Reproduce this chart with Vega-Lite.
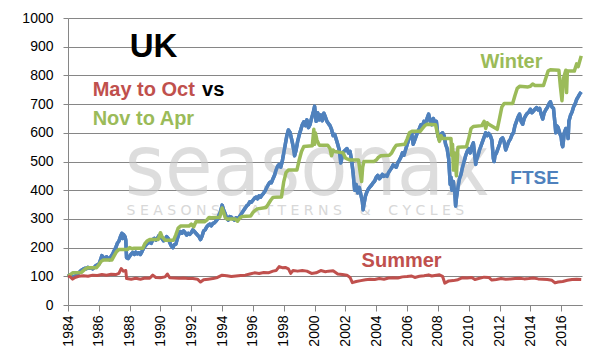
{
  "$schema": "https://vega.github.io/schema/vega-lite/v6.json",
  "width": 514,
  "height": 287,
  "autosize": {"type": "none"},
  "padding": {"left": 68, "top": 18, "right": 19, "bottom": 56},
  "background": "white",
  "config": {
    "view": {"stroke": null},
    "font": "Liberation Sans",
    "axis": {
      "labelFont": "Liberation Sans", "labelFontSize": 14, "labelColor": "#000000",
      "domainColor": "#868686", "tickColor": "#868686", "gridColor": "#868686", "title": null
    },
    "axisX": {"labelAngle": -90, "grid": false, "tickSize": 6, "labelPadding": 4, "labelOverlap": false, "labelFlush": false},
    "axisY": {"grid": true, "tickSize": 5, "labelPadding": 10}
  },
  "resolve": {"axis": {"x": "independent", "y": "independent"}},
  "datasets": {
    "ftse": [
      {"t":1984.0,"v":100},{"t":1984.1,"v":104},{"t":1984.2,"v":103},{"t":1984.3,"v":96},{"t":1984.4,"v":100},{"t":1984.5,"v":101},{"t":1984.6,"v":108},{"t":1984.7,"v":112},{"t":1984.8,"v":118},{"t":1984.9,"v":122},
      {"t":1985.0,"v":125},{"t":1985.1,"v":128},{"t":1985.2,"v":126},{"t":1985.3,"v":131},{"t":1985.4,"v":128},{"t":1985.5,"v":130},{"t":1985.6,"v":126},{"t":1985.7,"v":130},{"t":1985.8,"v":137},{"t":1985.9,"v":140},
      {"t":1986.0,"v":142},{"t":1986.1,"v":155},{"t":1986.2,"v":172},{"t":1986.3,"v":166},{"t":1986.4,"v":160},{"t":1986.5,"v":168},{"t":1986.6,"v":163},{"t":1986.7,"v":158},{"t":1986.8,"v":170},{"t":1986.9,"v":178},
      {"t":1987.0,"v":190},{"t":1987.1,"v":200},{"t":1987.2,"v":215},{"t":1987.3,"v":222},{"t":1987.4,"v":238},{"t":1987.5,"v":250},{"t":1987.55,"v":232},{"t":1987.6,"v":246},{"t":1987.7,"v":238},{"t":1987.75,"v":225},{"t":1987.8,"v":165},{"t":1987.9,"v":162},
      {"t":1988.0,"v":170},{"t":1988.1,"v":178},{"t":1988.2,"v":183},{"t":1988.3,"v":176},{"t":1988.4,"v":184},{"t":1988.5,"v":178},{"t":1988.6,"v":182},{"t":1988.7,"v":176},{"t":1988.8,"v":186},{"t":1988.9,"v":198},
      {"t":1989.0,"v":205},{"t":1989.1,"v":212},{"t":1989.2,"v":216},{"t":1989.3,"v":222},{"t":1989.4,"v":215},{"t":1989.5,"v":228},{"t":1989.6,"v":232},{"t":1989.7,"v":226},{"t":1989.8,"v":232},{"t":1989.9,"v":242},
      {"t":1990.0,"v":236},{"t":1990.1,"v":232},{"t":1990.2,"v":224},{"t":1990.3,"v":230},{"t":1990.4,"v":238},{"t":1990.5,"v":232},{"t":1990.6,"v":218},{"t":1990.7,"v":206},{"t":1990.8,"v":200},{"t":1990.9,"v":210},
      {"t":1991.0,"v":212},{"t":1991.1,"v":232},{"t":1991.2,"v":248},{"t":1991.3,"v":256},{"t":1991.4,"v":250},{"t":1991.5,"v":258},{"t":1991.6,"v":252},{"t":1991.7,"v":244},{"t":1991.8,"v":250},{"t":1991.9,"v":246},
      {"t":1992.0,"v":252},{"t":1992.1,"v":262},{"t":1992.2,"v":256},{"t":1992.3,"v":250},{"t":1992.4,"v":244},{"t":1992.5,"v":238},{"t":1992.6,"v":228},{"t":1992.7,"v":240},{"t":1992.8,"v":258},{"t":1992.9,"v":262},
      {"t":1993.0,"v":272},{"t":1993.1,"v":278},{"t":1993.2,"v":282},{"t":1993.3,"v":276},{"t":1993.4,"v":284},{"t":1993.5,"v":286},{"t":1993.6,"v":292},{"t":1993.7,"v":300},{"t":1993.8,"v":314},{"t":1993.9,"v":326},
      {"t":1994.0,"v":348},{"t":1994.1,"v":330},{"t":1994.2,"v":318},{"t":1994.3,"v":302},{"t":1994.4,"v":296},{"t":1994.5,"v":308},{"t":1994.6,"v":306},{"t":1994.7,"v":300},{"t":1994.8,"v":296},{"t":1994.9,"v":304},
      {"t":1995.0,"v":298},{"t":1995.1,"v":306},{"t":1995.2,"v":314},{"t":1995.3,"v":322},{"t":1995.4,"v":330},{"t":1995.5,"v":338},{"t":1995.6,"v":346},{"t":1995.7,"v":350},{"t":1995.8,"v":360},{"t":1995.9,"v":358},
      {"t":1996.0,"v":365},{"t":1996.1,"v":372},{"t":1996.2,"v":376},{"t":1996.3,"v":370},{"t":1996.4,"v":380},{"t":1996.5,"v":376},{"t":1996.6,"v":384},{"t":1996.7,"v":390},{"t":1996.8,"v":398},{"t":1996.9,"v":410},
      {"t":1997.0,"v":420},{"t":1997.1,"v":428},{"t":1997.2,"v":426},{"t":1997.3,"v":440},{"t":1997.4,"v":452},{"t":1997.5,"v":470},{"t":1997.6,"v":484},{"t":1997.7,"v":490},{"t":1997.8,"v":480},{"t":1997.9,"v":500},
      {"t":1998.0,"v":530},{"t":1998.1,"v":560},{"t":1998.2,"v":590},{"t":1998.3,"v":610},{"t":1998.4,"v":602},{"t":1998.5,"v":580},{"t":1998.6,"v":555},{"t":1998.7,"v":520},{"t":1998.8,"v":540},{"t":1998.9,"v":570},
      {"t":1999.0,"v":592},{"t":1999.1,"v":610},{"t":1999.2,"v":628},{"t":1999.3,"v":638},{"t":1999.4,"v":625},{"t":1999.5,"v":645},{"t":1999.6,"v":618},{"t":1999.7,"v":628},{"t":1999.8,"v":650},{"t":1999.9,"v":668},
      {"t":2000.0,"v":692},{"t":2000.1,"v":640},{"t":2000.2,"v":670},{"t":2000.3,"v":645},{"t":2000.4,"v":662},{"t":2000.5,"v":642},{"t":2000.6,"v":668},{"t":2000.7,"v":655},{"t":2000.8,"v":640},{"t":2000.9,"v":632},
      {"t":2001.0,"v":625},{"t":2001.1,"v":612},{"t":2001.2,"v":590},{"t":2001.3,"v":595},{"t":2001.4,"v":578},{"t":2001.5,"v":560},{"t":2001.6,"v":540},{"t":2001.7,"v":495},{"t":2001.8,"v":520},{"t":2001.9,"v":535},
      {"t":2002.0,"v":540},{"t":2002.1,"v":545},{"t":2002.2,"v":530},{"t":2002.3,"v":535},{"t":2002.4,"v":505},{"t":2002.5,"v":460},{"t":2002.6,"v":400},{"t":2002.7,"v":420},{"t":2002.8,"v":390},{"t":2002.9,"v":410},
      {"t":2003.0,"v":385},{"t":2003.1,"v":360},{"t":2003.15,"v":332},{"t":2003.2,"v":350},{"t":2003.3,"v":380},{"t":2003.4,"v":395},{"t":2003.5,"v":405},{"t":2003.6,"v":412},{"t":2003.7,"v":418},{"t":2003.8,"v":426},{"t":2003.9,"v":432},
      {"t":2004.0,"v":445},{"t":2004.1,"v":452},{"t":2004.2,"v":440},{"t":2004.3,"v":446},{"t":2004.4,"v":455},{"t":2004.5,"v":448},{"t":2004.6,"v":452},{"t":2004.7,"v":448},{"t":2004.8,"v":462},{"t":2004.9,"v":470},
      {"t":2005.0,"v":478},{"t":2005.1,"v":488},{"t":2005.2,"v":484},{"t":2005.3,"v":480},{"t":2005.4,"v":496},{"t":2005.5,"v":505},{"t":2005.6,"v":515},{"t":2005.7,"v":530},{"t":2005.8,"v":522},{"t":2005.9,"v":540},
      {"t":2006.0,"v":558},{"t":2006.1,"v":575},{"t":2006.2,"v":590},{"t":2006.3,"v":598},{"t":2006.4,"v":560},{"t":2006.5,"v":575},{"t":2006.6,"v":590},{"t":2006.7,"v":605},{"t":2006.8,"v":615},{"t":2006.9,"v":628},
      {"t":2007.0,"v":625},{"t":2007.1,"v":640},{"t":2007.2,"v":632},{"t":2007.3,"v":650},{"t":2007.4,"v":665},{"t":2007.5,"v":640},{"t":2007.6,"v":628},{"t":2007.7,"v":650},{"t":2007.8,"v":635},{"t":2007.9,"v":640},
      {"t":2008.0,"v":590},{"t":2008.1,"v":575},{"t":2008.2,"v":595},{"t":2008.3,"v":600},{"t":2008.4,"v":590},{"t":2008.5,"v":560},{"t":2008.6,"v":545},{"t":2008.7,"v":510},{"t":2008.8,"v":420},{"t":2008.85,"v":445},{"t":2008.9,"v":400},
      {"t":2009.0,"v":430},{"t":2009.1,"v":390},{"t":2009.15,"v":345},{"t":2009.2,"v":372},{"t":2009.3,"v":410},{"t":2009.4,"v":440},{"t":2009.5,"v":455},{"t":2009.6,"v":480},{"t":2009.7,"v":500},{"t":2009.8,"v":520},{"t":2009.9,"v":535},
      {"t":2010.0,"v":545},{"t":2010.1,"v":530},{"t":2010.2,"v":552},{"t":2010.3,"v":565},{"t":2010.4,"v":515},{"t":2010.45,"v":490},{"t":2010.5,"v":505},{"t":2010.6,"v":520},{"t":2010.7,"v":540},{"t":2010.8,"v":555},{"t":2010.9,"v":570},
      {"t":2011.0,"v":585},{"t":2011.1,"v":600},{"t":2011.2,"v":590},{"t":2011.3,"v":598},{"t":2011.4,"v":590},{"t":2011.5,"v":575},{"t":2011.6,"v":510},{"t":2011.65,"v":500},{"t":2011.7,"v":520},{"t":2011.8,"v":530},{"t":2011.9,"v":545},
      {"t":2012.0,"v":560},{"t":2012.1,"v":578},{"t":2012.2,"v":582},{"t":2012.3,"v":568},{"t":2012.4,"v":540},{"t":2012.5,"v":555},{"t":2012.6,"v":570},{"t":2012.7,"v":578},{"t":2012.8,"v":592},{"t":2012.9,"v":600},
      {"t":2013.0,"v":625},{"t":2013.1,"v":640},{"t":2013.2,"v":655},{"t":2013.3,"v":665},{"t":2013.4,"v":640},{"t":2013.5,"v":630},{"t":2013.6,"v":650},{"t":2013.7,"v":660},{"t":2013.8,"v":668},{"t":2013.9,"v":672},
      {"t":2014.0,"v":682},{"t":2014.1,"v":670},{"t":2014.2,"v":676},{"t":2014.3,"v":682},{"t":2014.4,"v":688},{"t":2014.5,"v":680},{"t":2014.6,"v":685},{"t":2014.7,"v":665},{"t":2014.8,"v":648},{"t":2014.9,"v":670},
      {"t":2015.0,"v":680},{"t":2015.1,"v":688},{"t":2015.2,"v":700},{"t":2015.3,"v":708},{"t":2015.4,"v":690},{"t":2015.5,"v":685},{"t":2015.6,"v":630},{"t":2015.65,"v":600},{"t":2015.7,"v":625},{"t":2015.8,"v":618},{"t":2015.9,"v":600},
      {"t":2016.0,"v":585},{"t":2016.05,"v":560},{"t":2016.1,"v":552},{"t":2016.15,"v":575},{"t":2016.2,"v":600},{"t":2016.3,"v":615},{"t":2016.4,"v":608},{"t":2016.45,"v":580},{"t":2016.5,"v":640},{"t":2016.6,"v":660},{"t":2016.7,"v":672},{"t":2016.8,"v":690},{"t":2016.9,"v":700},
      {"t":2017.0,"v":716},{"t":2017.1,"v":725},{"t":2017.2,"v":735},{"t":2017.3,"v":742}
    ],
    "winter": [
      {"t":1984.0,"v":100},{"t":1984.15,"v":106},{"t":1984.3,"v":112},{"t":1984.85,"v":113},
      {"t":1985.0,"v":120},{"t":1985.15,"v":127},{"t":1985.3,"v":130},{"t":1985.85,"v":130},
      {"t":1986.0,"v":140},{"t":1986.15,"v":152},{"t":1986.3,"v":157},{"t":1986.85,"v":157},
      {"t":1987.0,"v":172},{"t":1987.15,"v":186},{"t":1987.3,"v":193},{"t":1987.85,"v":193},
      {"t":1988.0,"v":200},{"t":1988.15,"v":196},{"t":1988.3,"v":198},{"t":1988.85,"v":198},
      {"t":1989.0,"v":215},{"t":1989.15,"v":224},{"t":1989.3,"v":228},{"t":1989.85,"v":228},
      {"t":1990.0,"v":252},{"t":1990.1,"v":238},{"t":1990.2,"v":232},{"t":1990.3,"v":226},{"t":1990.85,"v":226},
      {"t":1991.0,"v":245},{"t":1991.15,"v":268},{"t":1991.3,"v":275},{"t":1991.85,"v":275},
      {"t":1992.0,"v":282},{"t":1992.15,"v":272},{"t":1992.3,"v":290},{"t":1992.85,"v":290},
      {"t":1993.0,"v":296},{"t":1993.15,"v":305},{"t":1993.3,"v":304},{"t":1993.85,"v":306},
      {"t":1994.0,"v":338},{"t":1994.1,"v":322},{"t":1994.2,"v":305},{"t":1994.3,"v":300},{"t":1994.85,"v":300},
      {"t":1995.0,"v":292},{"t":1995.15,"v":303},{"t":1995.3,"v":308},{"t":1995.85,"v":310},
      {"t":1996.0,"v":322},{"t":1996.15,"v":330},{"t":1996.3,"v":335},{"t":1996.85,"v":340},
      {"t":1997.0,"v":352},{"t":1997.15,"v":365},{"t":1997.3,"v":375},{"t":1997.85,"v":376},
      {"t":1998.0,"v":430},{"t":1998.15,"v":462},{"t":1998.3,"v":470},{"t":1998.85,"v":470},
      {"t":1999.0,"v":505},{"t":1999.15,"v":535},{"t":1999.3,"v":552},{"t":1999.85,"v":555},
      {"t":1999.95,"v":612},{"t":2000.0,"v":560},{"t":2000.05,"v":600},{"t":2000.15,"v":575},{"t":2000.3,"v":557},{"t":2000.85,"v":557},
      {"t":2001.0,"v":545},{"t":2001.1,"v":520},{"t":2001.2,"v":540},{"t":2001.3,"v":535},{"t":2001.85,"v":530},
      {"t":2002.0,"v":512},{"t":2002.15,"v":508},{"t":2002.3,"v":505},{"t":2002.85,"v":505},
      {"t":2002.95,"v":465},{"t":2003.05,"v":430},{"t":2003.12,"v":480},{"t":2003.2,"v":500},{"t":2003.85,"v":500},
      {"t":2004.0,"v":505},{"t":2004.15,"v":515},{"t":2004.3,"v":520},{"t":2004.85,"v":522},
      {"t":2005.0,"v":530},{"t":2005.15,"v":545},{"t":2005.3,"v":557},{"t":2005.85,"v":560},
      {"t":2006.0,"v":578},{"t":2006.15,"v":600},{"t":2006.3,"v":605},{"t":2006.85,"v":605},
      {"t":2007.0,"v":615},{"t":2007.15,"v":625},{"t":2007.3,"v":630},{"t":2007.85,"v":628},
      {"t":2008.0,"v":590},{"t":2008.1,"v":570},{"t":2008.2,"v":590},{"t":2008.3,"v":580},{"t":2008.85,"v":580},
      {"t":2008.9,"v":520},{"t":2008.95,"v":560},{"t":2009.0,"v":470},{"t":2009.1,"v":530},{"t":2009.2,"v":450},{"t":2009.3,"v":550},{"t":2009.85,"v":551},
      {"t":2010.0,"v":580},{"t":2010.15,"v":615},{"t":2010.3,"v":622},{"t":2010.85,"v":625},
      {"t":2011.0,"v":640},{"t":2011.1,"v":615},{"t":2011.2,"v":635},{"t":2011.3,"v":630},{"t":2011.85,"v":612},
      {"t":2012.0,"v":650},{"t":2012.15,"v":690},{"t":2012.3,"v":702},{"t":2012.85,"v":702},
      {"t":2013.0,"v":730},{"t":2013.15,"v":755},{"t":2013.3,"v":762},{"t":2013.85,"v":760},
      {"t":2014.0,"v":762},{"t":2014.15,"v":770},{"t":2014.3,"v":765},{"t":2014.85,"v":765},
      {"t":2015.0,"v":790},{"t":2015.15,"v":815},{"t":2015.3,"v":820},{"t":2015.85,"v":818},
      {"t":2015.95,"v":760},{"t":2016.05,"v":712},{"t":2016.15,"v":790},{"t":2016.3,"v":818},{"t":2016.35,"v":740},{"t":2016.4,"v":815},{"t":2016.85,"v":815},
      {"t":2017.0,"v":840},{"t":2017.1,"v":830},{"t":2017.3,"v":868}
    ],
    "summer": [
      {"t":1984.0,"v":100},{"t":1984.15,"v":98},{"t":1984.3,"v":90},{"t":1984.45,"v":96},{"t":1984.7,"v":100},
      {"t":1985.0,"v":102},{"t":1985.3,"v":100},{"t":1985.6,"v":104},{"t":1985.9,"v":103},
      {"t":1986.2,"v":106},{"t":1986.5,"v":104},{"t":1986.8,"v":107},{"t":1987.1,"v":106},{"t":1987.3,"v":110},{"t":1987.45,"v":127},{"t":1987.6,"v":118},{"t":1987.75,"v":120},{"t":1987.8,"v":92},
      {"t":1988.1,"v":90},{"t":1988.4,"v":93},{"t":1988.7,"v":90},{"t":1989.0,"v":94},{"t":1989.3,"v":93},{"t":1989.5,"v":104},{"t":1989.7,"v":96},
      {"t":1990.0,"v":95},{"t":1990.3,"v":98},{"t":1990.45,"v":108},{"t":1990.6,"v":95},{"t":1990.9,"v":94},
      {"t":1991.2,"v":93},{"t":1991.5,"v":94},{"t":1991.8,"v":92},{"t":1992.1,"v":92},{"t":1992.4,"v":90},{"t":1992.6,"v":80},{"t":1992.8,"v":88},
      {"t":1993.1,"v":90},{"t":1993.4,"v":92},{"t":1993.7,"v":96},{"t":1994.0,"v":104},{"t":1994.3,"v":102},{"t":1994.6,"v":99},{"t":1994.9,"v":101},
      {"t":1995.2,"v":103},{"t":1995.5,"v":104},{"t":1995.8,"v":108},{"t":1996.1,"v":112},{"t":1996.4,"v":110},{"t":1996.7,"v":113},
      {"t":1997.0,"v":112},{"t":1997.3,"v":118},{"t":1997.5,"v":120},{"t":1997.7,"v":134},{"t":1997.9,"v":130},
      {"t":1998.1,"v":131},{"t":1998.3,"v":126},{"t":1998.45,"v":110},{"t":1998.6,"v":120},{"t":1998.9,"v":118},
      {"t":1999.2,"v":120},{"t":1999.5,"v":118},{"t":1999.8,"v":110},{"t":2000.1,"v":112},{"t":2000.4,"v":120},{"t":2000.7,"v":116},{"t":2000.9,"v":118},
      {"t":2001.2,"v":119},{"t":2001.5,"v":108},{"t":2001.8,"v":106},{"t":2002.1,"v":104},{"t":2002.3,"v":96},{"t":2002.45,"v":78},{"t":2002.7,"v":82},
      {"t":2003.0,"v":85},{"t":2003.3,"v":88},{"t":2003.6,"v":90},{"t":2003.9,"v":89},{"t":2004.2,"v":92},{"t":2004.5,"v":90},{"t":2004.8,"v":94},
      {"t":2005.1,"v":95},{"t":2005.4,"v":94},{"t":2005.7,"v":98},{"t":2006.0,"v":99},{"t":2006.3,"v":101},{"t":2006.5,"v":96},{"t":2006.8,"v":100},
      {"t":2007.1,"v":102},{"t":2007.4,"v":105},{"t":2007.6,"v":101},{"t":2007.9,"v":104},{"t":2008.1,"v":105},{"t":2008.3,"v":100},{"t":2008.45,"v":76},{"t":2008.7,"v":84},
      {"t":2009.0,"v":85},{"t":2009.3,"v":88},{"t":2009.6,"v":95},{"t":2009.9,"v":94},{"t":2010.2,"v":96},{"t":2010.4,"v":89},{"t":2010.7,"v":93},
      {"t":2011.0,"v":97},{"t":2011.3,"v":96},{"t":2011.5,"v":87},{"t":2011.8,"v":89},{"t":2012.1,"v":92},{"t":2012.4,"v":90},{"t":2012.7,"v":91},
      {"t":2013.0,"v":92},{"t":2013.3,"v":93},{"t":2013.6,"v":91},{"t":2013.9,"v":92},{"t":2014.2,"v":94},{"t":2014.5,"v":91},{"t":2014.8,"v":90},
      {"t":2015.1,"v":89},{"t":2015.4,"v":86},{"t":2015.6,"v":77},{"t":2015.8,"v":80},{"t":2016.1,"v":82},{"t":2016.4,"v":86},{"t":2016.7,"v":89},{"t":2017.0,"v":90},{"t":2017.3,"v":89}
    ]
  },
  "encoding": {
    "x": {"field": "t", "type": "quantitative", "scale": {"domain": [1984, 2017.35], "nice": false, "zero": false}, "axis": null},
    "y": {"field": "v", "type": "quantitative", "scale": {"domain": [0, 1000], "nice": false}, "axis": null}
  },
  "layer": [
    {
      "data": {"name": "ftse"},
      "mark": {"type": "line", "color": "#4f81bd", "strokeWidth": 3.5, "strokeJoin": "round"},
      "encoding": {
        "x": {
          "field": "t", "type": "quantitative",
          "scale": {"domain": [1984, 2017.35], "nice": false, "zero": false},
          "axis": {
            "values": [1984,1986,1988,1990,1992,1994,1996,1998,2000,2002,2004,2006,2008,2010,2012,2014,2016], "format": "d", "labelFontSize": 14, "labelAngle": -90,
            "encode": {"labels": {"update": {"angle": {"value": 270}, "fontSize": {"value": 14}, "align": {"value": "right"}, "baseline": {"value": "middle"}}}}
          }
        },
        "y": {
          "field": "v", "type": "quantitative",
          "scale": {"domain": [0, 1000], "nice": false},
          "axis": {
            "values": [0,100,200,300,400,500,600,700,800,900,1000], "format": "d", "labelFontSize": 14,
            "encode": {"labels": {"update": {"fontSize": {"value": 14}}}}
          }
        }
      }
    },
    {
      "data": {"values": [{"t": 1987.68, "v": 383, "label": "seasonax"}]},
      "mark": {"type": "text", "align": "left", "baseline": "alphabetic", "font": "DejaVu Sans Condensed", "fontSize": 86, "fill": "#c8c8c8", "opacity": 0.6},
      "encoding": {"text": {"field": "label"}}
    },
    {
      "data": {"values": [{"t": 1987.8, "v": 314, "label": "S\u00a0E\u00a0A\u00a0S\u00a0O\u00a0N\u00a0S\u00a0\u00a0\u00a0\u00a0P\u00a0A\u00a0T\u00a0T\u00a0E\u00a0R\u00a0N\u00a0S\u00a0\u00a0\u00a0\u00a0&\u00a0\u00a0\u00a0\u00a0C\u00a0Y\u00a0C\u00a0L\u00a0E\u00a0S"}]},
      "mark": {"type": "text", "align": "left", "baseline": "alphabetic", "font": "DejaVu Sans", "fontSize": 14, "fill": "#c8c8c8", "opacity": 0.7},
      "encoding": {"text": {"field": "label"}}
    },
    {
      "data": {"name": "ftse"},
      "mark": {"type": "line", "color": "#4f81bd", "strokeWidth": 3.5, "strokeJoin": "round"}
    },
    {
      "data": {"name": "winter"},
      "mark": {"type": "line", "color": "#9bbb59", "strokeWidth": 3.5, "strokeJoin": "round"}
    },
    {
      "data": {"name": "summer"},
      "mark": {"type": "line", "color": "#c0504d", "strokeWidth": 3, "strokeJoin": "round"}
    },
    {
      "data": {"values": [{"t": 1988.0, "v": 865, "label": "UK"}]},
      "mark": {"type": "text", "align": "left", "baseline": "alphabetic", "font": "Liberation Sans", "fontWeight": "bold", "fontSize": 33, "fill": "#000000"},
      "encoding": {"text": {"field": "label"}}
    },
    {
      "data": {"values": [{"t": 1985.6, "v": 728, "label": "May to Oct"}, {"t": 2003.05, "v": 131, "label": "Summer"}]},
      "mark": {"type": "text", "align": "left", "baseline": "alphabetic", "font": "Liberation Sans", "fontWeight": "bold", "fontSize": 20, "fill": "#c0504d"},
      "encoding": {"text": {"field": "label"}}
    },
    {
      "data": {"values": [{"t": 1992.7, "v": 728, "label": "vs"}]},
      "mark": {"type": "text", "align": "left", "baseline": "alphabetic", "font": "Liberation Sans", "fontWeight": "bold", "fontSize": 20, "fill": "#000000"},
      "encoding": {"text": {"field": "label"}}
    },
    {
      "data": {"values": [{"t": 1985.6, "v": 627, "label": "Nov to Apr"}, {"t": 2010.76, "v": 825, "label": "Winter"}]},
      "mark": {"type": "text", "align": "left", "baseline": "alphabetic", "font": "Liberation Sans", "fontWeight": "bold", "fontSize": 20, "fill": "#9bbb59"},
      "encoding": {"text": {"field": "label"}}
    },
    {
      "data": {"values": [{"t": 2012.7, "v": 420, "label": "FTSE"}]},
      "mark": {"type": "text", "align": "left", "baseline": "alphabetic", "font": "Liberation Sans", "fontWeight": "bold", "fontSize": 19, "fill": "#4f81bd"},
      "encoding": {"text": {"field": "label"}}
    }
  ]
}
